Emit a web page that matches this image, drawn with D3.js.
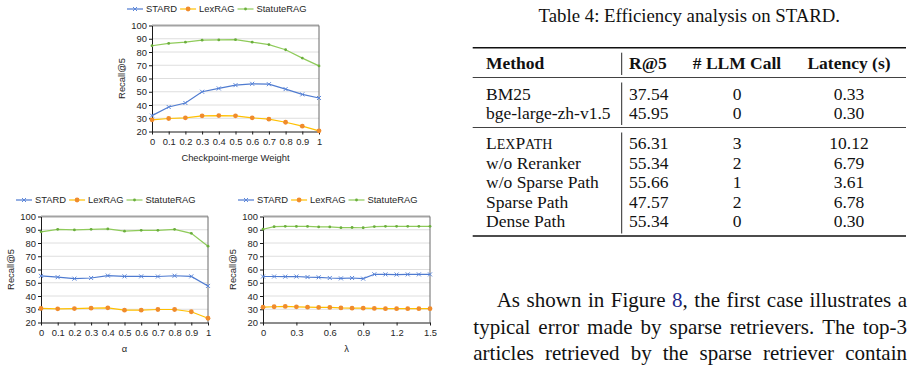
<!DOCTYPE html>
<html lang="en">
<head>
<meta charset="UTF-8">
<title>Figure</title>
<script src="https://d3js.org/d3.v7.min.js"></script>
<style>
  body { margin: 0; background: #fff; }
  svg { display: block; }
</style>
</head>
<body>
<svg id="page"></svg>
<script>
const width = 917, height = 376;

// sweep values on the x axes
const mergeWeights = [0, 0.1, 0.2, 0.3, 0.4, 0.5, 0.6, 0.7, 0.8, 0.9, 1];
const alphas = [0, 0.1, 0.2, 0.3, 0.4, 0.5, 0.6, 0.7, 0.8, 0.9, 1];
const lambdas = [0, 0.1, 0.2, 0.3, 0.4, 0.5, 0.6, 0.7, 0.8, 0.9, 1, 1.1, 1.2, 1.3, 1.4, 1.5];

// Recall@5 vs checkpoint-merge weight
const mergeStard = [32, 38.5, 41.5, 50, 52.5, 55, 56, 55.7, 52, 48, 45.3];
const mergeLex = [28.8, 29.8, 30.3, 31.8, 32, 31.8, 30.3, 29.3, 27, 24, 20.5];
const mergeStatute = [84.7, 86.5, 87.4, 88.9, 89.1, 89.3, 87.4, 85.6, 81.7, 75.4, 69.5];

// Recall@5 vs alpha
const alphaStard = [55.2, 54.2, 53.1, 53.6, 55.4, 54.8, 54.8, 54.7, 55.3, 54.8, 47.6];
const alphaLex = [30.6, 30.3, 30.5, 30.8, 31.1, 29.3, 29.3, 29.8, 29.8, 28.1, 23.2];
const alphaStatute = [88.4, 90.3, 89.9, 90.3, 90.6, 88.9, 89.6, 89.6, 90.3, 87.3, 77.6];

// Recall@5 vs lambda
const lambdaStard = [54.7, 54.7, 54.6, 54.7, 54.3, 54.1, 53.6, 53.3, 53.6, 53.1, 56.4, 56.3, 56.2, 56.3, 56.3, 56.3];
const lambdaLex = [31.6, 31.9, 32.1, 31.8, 31.6, 31.4, 31.4, 31, 30.8, 30.8, 30.6, 30.4, 30.4, 30.4, 30.4, 30.4];
const lambdaStatute = [90.4, 92.3, 92.6, 92.5, 92.5, 92.1, 92.1, 91.6, 91.7, 91.5, 92.4, 92.6, 92.6, 92.6, 92.6, 92.6];

const seriesNames = ["STARD", "LexRAG", "StatuteRAG"];
const yTicks = [20, 30, 40, 50, 60, 70, 80, 90, 100];
const lambdaTicks = [0, 0.3, 0.6, 0.9, 1.2, 1.5];

// table 4
const tableTitle = "Table 4: Efficiency analysis on STARD.";
const tableHeaders = ["Method", "R@5", "# LLM Call", "Latency (s)"];
const baseMethods = ["BM25", "bge-large-zh-v1.5"];
const baseR5 = [37.54, 45.95];
const baseCalls = [0, 0];
const baseLatency = [0.33, 0.30];
const oursMethods = ["LexPath", "w/o Reranker", "w/o Sparse Path", "Sparse Path", "Dense Path"];
const oursR5 = [56.31, 55.34, 55.66, 47.57, 55.34];
const oursCalls = [3, 2, 1, 2, 0];
const oursLatency = [10.12, 6.79, 3.61, 6.78, 0.30];

// body text under the table
const paragraphLines = [
  "As shown in Figure 8, the first case illustrates a",
  "typical error made by sparse retrievers. The top-3",
  "articles retrieved by the sparse retriever contain"
];
const linkText = "8";

const svg = d3.select("#page").attr("width", width).attr("height", height);

const sans = "'Liberation Sans', Arial, sans-serif";
const serif = "'Liberation Serif', 'Times New Roman', serif";
const colors = { line: ["#4f7bd0", "#ffc000", "#8fcb5a"], mark: ["#5b86d9", "#f08b2c", "#6aae3c"] };
const plotW = 167, plotH = 106;

// ---------- line charts ----------
const panels = [
  { left: 152, top: 25.5, xs: mergeWeights, ticks: mergeWeights, domain: [0, 1],
    series: [mergeStard, mergeLex, mergeStatute], title: "Checkpoint-merge Weight" },
  { left: 41, top: 216.5, xs: alphas, ticks: alphas, domain: [0, 1],
    series: [alphaStard, alphaLex, alphaStatute], title: "α" },
  { left: 263, top: 216.5, xs: lambdas, ticks: lambdaTicks, domain: [0, 1.5],
    series: [lambdaStard, lambdaLex, lambdaStatute], title: "λ" }
];

function drawMarker(g, i, cx, cy) {
  if (i === 0) {
    g.append("path").attr("d", `M${cx - 2},${cy - 2}L${cx + 2},${cy + 2}M${cx - 2},${cy + 2}L${cx + 2},${cy - 2}`)
      .attr("stroke", colors.mark[0]).attr("stroke-width", 1).attr("fill", "none");
  } else {
    g.append("circle").attr("cx", cx).attr("cy", cy).attr("r", i === 1 ? 2.4 : 1.4)
      .attr("fill", colors.mark[i]);
  }
}

panels.forEach(p => {
  const g = svg.append("g");
  const x = d3.scaleLinear().domain(p.domain).range([p.left, p.left + plotW]);
  const y = d3.scaleLinear().domain([20, 100]).range([p.top + plotH, p.top]);

  // gridlines, the 100 line is heavier
  g.selectAll(".grid").data(yTicks.filter(v => v > 20)).join("line")
    .attr("x1", p.left).attr("x2", p.left + plotW)
    .attr("y1", d => y(d)).attr("y2", d => y(d))
    .attr("stroke", d => d === 100 ? "#a3a3a3" : "#dedede")
    .attr("stroke-width", d => d === 100 ? 2 : 1);
  g.append("line").attr("x1", p.left + plotW).attr("x2", p.left + plotW)
    .attr("y1", y(100)).attr("y2", y(20)).attr("stroke", "#6b6b6b").attr("stroke-width", 1);

  const yAxis = g.append("g").attr("transform", `translate(${p.left},0)`)
    .call(d3.axisLeft(y).tickValues(yTicks).tickSize(3).tickSizeOuter(0).tickPadding(2));
  const xAxis = g.append("g").attr("transform", `translate(0,${p.top + plotH})`)
    .call(d3.axisBottom(x).tickValues(p.ticks).tickFormat(d3.format("~g")).tickSize(3).tickSizeOuter(0).tickPadding(4));
  [yAxis, xAxis].forEach(a => {
    a.attr("font-family", sans).attr("font-size", 9.4);
    a.selectAll("text").attr("fill", "#262626");
    a.selectAll("line, path").attr("stroke", "#1a1a1a");
  });

  // axis titles
  g.append("text").attr("x", p.left + plotW / 2).attr("y", p.top + plotH + 29)
    .attr("text-anchor", "middle").attr("font-family", sans).attr("font-size", 9.4)
    .attr("fill", "#262626").text(p.title);
  g.append("text").attr("transform", `translate(${p.left - 30 + 3.4},${p.top + plotH / 2}) rotate(-90)`)
    .attr("text-anchor", "middle").attr("font-family", sans).attr("font-size", 9.4)
    .attr("fill", "#262626").text("Recall@5");

  // series
  p.series.forEach((vals, i) => {
    const pts = vals.map((v, j) => [p.xs[j], v]);
    g.append("path").datum(pts)
      .attr("d", d3.line().x(d => x(d[0])).y(d => y(d[1])))
      .attr("fill", "none").attr("stroke", colors.line[i]).attr("stroke-width", 1.2);
    pts.forEach(d => drawMarker(g, i, x(d[0]), y(d[1])));
  });

  // legend above the plot
  let lx = p.left - 25;
  const ly = p.top - 16.5;
  seriesNames.forEach((name, i) => {
    g.append("line").attr("x1", lx).attr("x2", lx + 16).attr("y1", ly).attr("y2", ly)
      .attr("stroke", colors.line[i]).attr("stroke-width", 1.2);
    drawMarker(g, i, lx + 8, ly);
    const t = g.append("text").attr("x", lx + 19).attr("y", ly + 3.4)
      .attr("font-family", sans).attr("font-size", 9.4).attr("fill", "#262626").text(name);
    lx += 19 + t.node().getComputedTextLength() + 3;
  });
});

// ---------- table ----------
const tg = svg.append("g").attr("font-family", serif).attr("fill", "#111");
const tx0 = 472.7, tx1 = 906;
const colMethod = 486, colBar = 621.7, colR5 = 629, colCalls = 737, colLat = 849;
const fs = 17.5, capMid = 5.8;
const f2 = d3.format(".2f");

tg.append("text").attr("x", (tx0 + tx1) / 2).attr("y", 21.5).attr("text-anchor", "middle")
  .attr("font-size", 18.8).text(tableTitle);

const rules = [{ y: 47.7, w: 1.4 }, { y: 77.5, w: 0.8 }, { y: 127.5, w: 0.8 }, { y: 236, w: 1.4 }];
tg.selectAll(".rule").data(rules).join("line")
  .attr("x1", tx0).attr("x2", tx1).attr("y1", d => d.y).attr("y2", d => d.y)
  .attr("stroke", "#111").attr("stroke-width", d => d.w);
// vertical separator, broken at the rules
d3.pairs(rules).forEach(([a, b]) => {
  tg.append("line").attr("x1", colBar).attr("x2", colBar)
    .attr("y1", a.y + 5).attr("y2", b.y - 2.5).attr("stroke", "#111").attr("stroke-width", 0.9);
});

const headY = 63 + capMid;
const hdr = tg.append("g").attr("font-weight", "bold").attr("font-size", fs);
hdr.append("text").attr("x", colMethod).attr("y", headY).text(tableHeaders[0]);
hdr.append("text").attr("x", colR5).attr("y", headY).text(tableHeaders[1]);
hdr.append("text").attr("x", colCalls).attr("y", headY).attr("text-anchor", "middle").text(tableHeaders[2]);
hdr.append("text").attr("x", colLat).attr("y", headY).attr("text-anchor", "middle").text(tableHeaders[3]);

function tableRows(methods, r5, calls, lat, firstY) {
  methods.forEach((m, i) => {
    const yy = firstY + i * 19.5 + capMid;
    const t = tg.append("text").attr("x", colMethod).attr("y", yy).attr("font-size", fs);
    if (m === "LexPath") {
      t.append("tspan").text("L");
      t.append("tspan").attr("font-size", fs * 0.8).text("EX");
      t.append("tspan").text("P");
      t.append("tspan").attr("font-size", fs * 0.8).text("ATH");
    } else {
      t.text(m);
    }
    tg.append("text").attr("x", colR5).attr("y", yy).attr("font-size", fs).text(f2(r5[i]));
    tg.append("text").attr("x", colCalls).attr("y", yy).attr("font-size", fs).attr("text-anchor", "middle").text(calls[i]);
    tg.append("text").attr("x", colLat).attr("y", yy).attr("font-size", fs).attr("text-anchor", "middle").text(f2(lat[i]));
  });
}
tableRows(baseMethods, baseR5, baseCalls, baseLatency, 94);
tableRows(oursMethods, oursR5, oursCalls, oursLatency, 143.5);

// ---------- justified paragraph ----------
const pg = svg.append("g").attr("font-family", serif).attr("font-size", 21).attr("fill", "#111");
const parX0 = 473.3, parX1 = 907, indent = 23.4;
paragraphLines.forEach((line, li) => {
  const yy = 302 + li * 26.5 + 5;
  const x0 = li === 0 ? parX0 + indent : parX0;
  const words = line.split(" ");
  const nodes = words.map(w => {
    const t = pg.append("text").attr("y", yy);
    if (w.startsWith(linkText + ",")) {
      t.append("tspan").attr("fill", "#1f2a8a").text(linkText);
      t.append("tspan").text(w.slice(linkText.length));
    } else {
      t.text(w);
    }
    return t;
  });
  const widths = nodes.map(n => n.node().getComputedTextLength());
  const gap = Math.max(5.2, (parX1 - x0 - d3.sum(widths)) / (words.length - 1));
  let cx = x0;
  nodes.forEach((n, i) => { n.attr("x", cx); cx += widths[i] + gap; });
});
</script>
</body>
</html>
